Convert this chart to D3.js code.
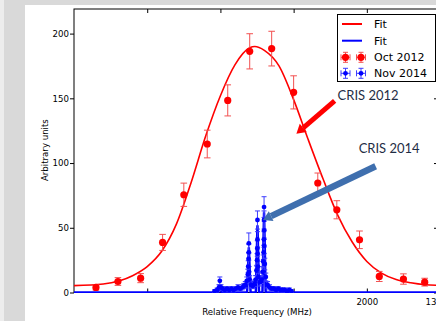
<!DOCTYPE html>
<html>
<head>
<meta charset="utf-8">
<script src="https://d3js.org/d3.v7.min.js"></script>
<style>
body { margin: 0; background: #d9d9d9; }
svg { display: block; }
.axis text { font-family: "DejaVu Sans", sans-serif; font-size: 8.6px; fill: #000; }
.axis line { stroke: #000; }
</style>
</head>
<body>
<script>
// Oct 2012 scan (red)
var octFreq = [150, 300, 455, 605, 750, 910, 1050, 1200, 1350, 1500, 1665, 1795, 1950, 2085, 2250, 2395];
var octCounts = [3.9, 8.5, 11.1, 38.7, 75.5, 114.7, 148.4, 186.3, 188.4, 154.6, 84.6, 63.9, 40.7, 12.4, 10.4, 8];
var octErr = [2, 3, 3.5, 6.2, 9, 10.7, 12, 13.6, 13.4, 12.8, 7.7, 7, 6.8, 3.9, 4, 3];

// fit through the 2012 scan
var octFitFreq = [0, 200, 400, 500, 600, 700, 800, 900, 1000, 1100, 1200, 1235, 1300, 1400, 1500, 1600, 1700, 1800, 1900, 2000, 2100, 2200, 2300, 2400, 2486];
var octFitCounts = [5.3, 6.6, 13, 20, 32, 53, 85, 121, 152, 176, 189, 190, 187, 175, 149, 118, 88, 60, 39, 24, 15, 10, 7.5, 6, 5.5];

// Nov 2014 scan (blue)
var novFreq = [960, 978, 990, 996, 1004, 1015, 1030, 1045, 1060, 1075, 1090, 1105, 1120, 1135, 1150, 1160, 1170, 1180, 1187, 1190, 1192, 1194, 1194, 1196, 1200, 1210, 1222, 1232, 1240, 1246, 1250, 1252, 1253, 1253, 1254, 1256, 1260, 1270, 1280, 1288, 1292, 1295, 1297, 1298, 1298, 1299, 1300, 1303, 1310, 1322, 1335, 1350, 1365, 1380, 1395, 1410, 1425, 1440, 1455, 1470, 1485];
var novCounts = [1, 2, 4, 9, 4, 3, 2, 3, 2, 3, 2, 3, 4, 3, 4, 5, 6, 9, 14, 20, 26, 38, 31, 16, 10, 6, 5, 7, 10, 17, 25, 34, 56, 41, 30, 20, 12, 8, 10, 16, 24, 31, 41, 66, 56, 48, 36, 22, 12, 6, 4, 3, 3, 2, 3, 2, 2, 2, 1, 2, 1];
var novErr = [1, 1.5, 2, 3, 2, 1.5, 1.5, 1.5, 1.5, 1.5, 1.5, 1.5, 2, 1.5, 2, 2, 2.5, 3, 4, 4.5, 5, 8, 6, 4, 3, 2.5, 2, 2.5, 3, 4, 5, 6, 7, 6, 5, 4, 3, 3, 3, 4, 5, 5.5, 6, 8, 7, 7, 6, 4.5, 3, 2.5, 2, 1.5, 1.5, 1.5, 1.5, 1.5, 1.5, 1.5, 1, 1.5, 1];

// fit through the 2014 scan
var novFitFreq = [0, 985, 996, 1008, 1182, 1194, 1206, 1242, 1253, 1264, 1287, 1298, 1309, 2486];
var novFitCounts = [0, 0, 6, 0, 0, 35, 0, 0, 52, 0, 0, 62, 0, 0];

var xTicks = [500, 1000, 1500, 2000, 2500];
var xTickLabels = ["", "", "", "2000", "13"];
var yTicks = [0, 50, 100, 150, 200];

var w = 436, h = 321;

var svg = d3.select("body").append("svg")
    .attr("width", w)
    .attr("height", h);

svg.append("rect").attr("width", 4).attr("height", h).attr("fill", "#ededed");
svg.append("rect")
    .attr("x", 25).attr("y", 5)
    .attr("width", w - 25).attr("height", h - 5)
    .attr("fill", "#fff");

var x = d3.scaleLinear().domain([0, 2486]).range([74, 438]);
var y = d3.scaleLinear().domain([0, 219]).range([292.5, 9]);

svg.append("clipPath").attr("id", "clip")
  .append("rect")
    .attr("x", 74).attr("y", 9)
    .attr("width", 364).attr("height", 284);

// axes
var gx = svg.append("g").attr("class", "axis")
    .attr("transform", "translate(0," + y(0) + ")")
    .call(d3.axisBottom(x).tickValues(xTicks).tickSize(-4).tickPadding(6)
        .tickFormat(function(d, i) { return xTickLabels[i]; }));
gx.select(".domain").remove();
// last label is cut by the page edge in the original; keep it inside
gx.selectAll(".tick text").filter(function(d) { return d === 2500; })
    .attr("text-anchor", "end").attr("dx", -4);

svg.append("g").attr("class", "axis")
    .attr("transform", "translate(0," + y.range()[1] + ")")
    .call(d3.axisTop(x).tickValues(xTicks).tickSize(-4).tickFormat(""))
    .select(".domain").remove();

var gy = svg.append("g").attr("class", "axis")
    .attr("transform", "translate(" + x.range()[0] + ",0)")
    .call(d3.axisLeft(y).tickValues(yTicks).tickSize(4).tickPadding(1));
gy.select(".domain").remove();

svg.append("g").attr("class", "axis")
    .attr("transform", "translate(" + x.range()[1] + ",0)")
    .call(d3.axisRight(y).tickValues(yTicks).tickSize(-4).tickFormat(""))
    .select(".domain").remove();

svg.append("rect")
    .attr("x", x.range()[0]).attr("y", y.range()[1])
    .attr("width", x.range()[1] - x.range()[0])
    .attr("height", y.range()[0] - y.range()[1])
    .attr("fill", "none").attr("stroke", "#000").attr("stroke-width", 1);

svg.append("text")
    .attr("transform", "translate(45," + y(110) + ") rotate(-90)")
    .attr("text-anchor", "middle")
    .attr("dy", "0.35em")
    .style("font-family", "DejaVu Sans, sans-serif")
    .style("font-size", "8.6px")
    .text("Arbitrary units");

svg.append("text")
    .attr("x", 257).attr("y", 315)
    .attr("text-anchor", "middle")
    .style("font-family", "DejaVu Sans, sans-serif")
    .style("font-size", "8.6px")
    .text("Relative Frequency (MHz)");

var plot = svg.append("g").attr("clip-path", "url(#clip)");

var line = d3.line()
    .x(function(d) { return x(d[0]); })
    .y(function(d) { return y(d[1]); });

// blue fit
plot.append("path")
    .datum(d3.zip(novFitFreq, novFitCounts))
    .attr("d", line)
    .attr("fill", "none")
    .attr("stroke", "#0000ff")
    .attr("stroke-width", 2.5);

// red fit
plot.append("path")
    .datum(d3.zip(octFitFreq, octFitCounts))
    .attr("d", line.curve(d3.curveMonotoneX))
    .attr("fill", "none")
    .attr("stroke", "#ff0000")
    .attr("stroke-width", 1.6);

function errPoints(g, xs, ys, es, col, ecol, r, cap) {
  var data = d3.range(xs.length).map(function(i) { return [xs[i], ys[i], es[i]]; });
  var eb = g.append("g").selectAll("g").data(data).enter().append("g")
      .attr("stroke", ecol).attr("stroke-width", 1);
  eb.append("line")
      .attr("x1", function(d) { return x(d[0]); }).attr("x2", function(d) { return x(d[0]); })
      .attr("y1", function(d) { return y(d[1] - d[2]); }).attr("y2", function(d) { return y(d[1] + d[2]); });
  eb.append("line")
      .attr("x1", function(d) { return x(d[0]) - cap; }).attr("x2", function(d) { return x(d[0]) + cap; })
      .attr("y1", function(d) { return y(d[1] + d[2]); }).attr("y2", function(d) { return y(d[1] + d[2]); });
  eb.append("line")
      .attr("x1", function(d) { return x(d[0]) - cap; }).attr("x2", function(d) { return x(d[0]) + cap; })
      .attr("y1", function(d) { return y(d[1] - d[2]); }).attr("y2", function(d) { return y(d[1] - d[2]); });
  g.append("g").selectAll("circle").data(data).enter().append("circle")
      .attr("cx", function(d) { return x(d[0]); })
      .attr("cy", function(d) { return y(d[1]); })
      .attr("r", r)
      .attr("fill", col);
}

errPoints(plot, novFreq, novCounts, novErr, "#0000ff", "#3d3dff", 2.4, 2.5);
errPoints(plot, octFreq, octCounts, octErr, "#ff0000", "#f25050", 3.6, 3.3);

// annotations
function arrow(x1, y1, x2, y2, col, sw, head) {
  var px1 = x(x1), py1 = y(y1), px2 = x(x2), py2 = y(y2);
  var a = Math.atan2(py2 - py1, px2 - px1);
  var bx = px2 - head * Math.cos(a), by = py2 - head * Math.sin(a);
  svg.append("line")
      .attr("x1", px1).attr("y1", py1).attr("x2", bx).attr("y2", by)
      .attr("stroke", col).attr("stroke-width", sw);
  var n = a + Math.PI / 2, hw = head * 0.6;
  svg.append("path")
      .attr("d", "M" + px2 + "," + py2 +
        "L" + (bx + hw * Math.cos(n)) + "," + (by + hw * Math.sin(n)) +
        "L" + (bx - hw * Math.cos(n)) + "," + (by - hw * Math.sin(n)) + "Z")
      .attr("fill", col);
}

arrow(2060, 97.5, 1291, 56, "#3f6fae", 6.5, 9);
arrow(1780, 148, 1519, 122.7, "#ff0000", 5, 9);

svg.append("text").attr("x", x(1800)).attr("y", y(149))
    .style("font-family", "Lato, sans-serif").style("font-size", "13px")
    .attr("fill", "#1f2d45").text("CRIS 2012");
svg.append("text").attr("x", x(1944)).attr("y", y(108))
    .style("font-family", "Lato, sans-serif").style("font-size", "13px")
    .attr("fill", "#1f2d45").text("CRIS 2014");

// legend
var lg = svg.append("g").attr("transform", "translate(337,14)");
lg.append("rect").attr("x", 0.5).attr("y", 0.5).attr("width", 98).attr("height", 67)
    .attr("fill", "#fff").attr("stroke", "#000");
var rows = [
  { label: "Fit", col: "#ff0000", kind: "line" },
  { label: "Fit", col: "#0000ff", kind: "line" },
  { label: "Oct 2012", col: "#ff0000", ecol: "#f25050", kind: "err", r: 3.6 },
  { label: "Nov 2014", col: "#0000ff", ecol: "#3d3dff", kind: "err", r: 2.4 }
];
var ry = [10, 26.7, 43.3, 59.3];
rows.forEach(function(d, i) {
  var g = lg.append("g").attr("transform", "translate(0," + ry[i] + ")");
  if (d.kind === "line") {
    g.append("line").attr("x1", 5).attr("x2", 25).attr("stroke", d.col).attr("stroke-width", 2);
  } else {
    [8.5, 24].forEach(function(cx) {
      g.append("line").attr("x1", cx - 4.5).attr("x2", cx + 4.5).attr("stroke", d.ecol);
      g.append("line").attr("x1", cx - 4.5).attr("x2", cx - 4.5).attr("y1", -3).attr("y2", 3).attr("stroke", d.ecol);
      g.append("line").attr("x1", cx + 4.5).attr("x2", cx + 4.5).attr("y1", -3).attr("y2", 3).attr("stroke", d.ecol);
      g.append("line").attr("x1", cx).attr("x2", cx).attr("y1", -5).attr("y2", 5).attr("stroke", d.ecol);
      g.append("line").attr("x1", cx - 2.5).attr("x2", cx + 2.5).attr("y1", -5).attr("y2", -5).attr("stroke", d.ecol);
      g.append("line").attr("x1", cx - 2.5).attr("x2", cx + 2.5).attr("y1", 5).attr("y2", 5).attr("stroke", d.ecol);
      g.append("circle").attr("cx", cx).attr("r", d.r).attr("fill", d.col);
    });
  }
  g.append("text").attr("x", 37).attr("dy", "0.36em")
      .style("font-family", "DejaVu Sans, sans-serif").style("font-size", "11px")
      .text(d.label);
});
</script>
</body>
</html>
